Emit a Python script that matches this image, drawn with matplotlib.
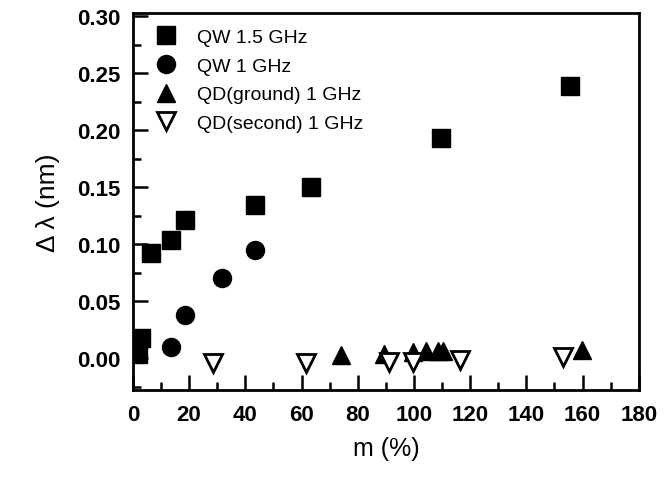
import matplotlib
matplotlib.use("Agg")
import matplotlib.pyplot as plt
from matplotlib.ticker import MultipleLocator

plt.rcParams['font.family'] = ['Liberation Sans', 'DejaVu Sans']

# QW 1.5 GHz (filled squares)
qw15_m = [2, 3, 6.5, 13.5, 18.7, 43.3, 63.4, 109.6, 155.5]
qw15_dl = [0.004, 0.018, 0.092, 0.104, 0.121, 0.134, 0.150, 0.193, 0.239]

# QW 1 GHz (filled circles)
qw1_m = [13.5, 18.7, 31.7, 43.3]
qw1_dl = [0.010, 0.038, 0.070, 0.095]

# QD ground 1 GHz (filled up-triangles)
qdg_m = [74, 89.5, 99.5, 104.2, 108.5, 110.5, 159.8]
qdg_dl = [0.003, 0.004, 0.005, 0.006, 0.006, 0.006, 0.007]

# QD second 1 GHz (open down-triangles)
qds_m = [28.5, 61.7, 91, 99.5, 116.5, 153.2]
qds_dl = [-0.004, -0.004, -0.003, -0.003, -0.002, 0.001]

labels = ["QW 1.5 GHz", "QW 1 GHz", "QD(ground) 1 GHz", "QD(second) 1 GHz"]

fig = plt.figure(figsize=(6.71, 4.81), dpi=100)
ax = fig.add_axes([0.198, 0.187, 0.754, 0.784])

ax.plot(qw15_m, qw15_dl, ls='none', marker='s', ms=13, color='black', label=labels[0])
ax.plot(qw1_m, qw1_dl, ls='none', marker='o', ms=13, color='black', label=labels[1])
ax.plot(qdg_m, qdg_dl, ls='none', marker='^', ms=13.5, color='black', label=labels[2])
ax.plot(qds_m, qds_dl, ls='none', marker='v', ms=12.5, mfc='white', mec='black', mew=2,
        label=labels[3])

ax.set_xlim(0, 180)
ax.set_ylim(-0.028, 0.303)
ax.xaxis.set_major_locator(MultipleLocator(20))
ax.xaxis.set_minor_locator(MultipleLocator(10))
ax.yaxis.set_major_locator(MultipleLocator(0.05))
ax.yaxis.set_minor_locator(MultipleLocator(0.025))
ax.yaxis.set_major_formatter(matplotlib.ticker.FormatStrFormatter('%.2f'))

ax.tick_params(which='major', direction='in', length=11, width=1.8, labelsize=16, pad=10)
ax.tick_params(which='minor', direction='in', length=5.5, width=1.8)
ax.tick_params(axis='y', pad=9)
for lab in ax.get_xticklabels() + ax.get_yticklabels():
    lab.set_fontweight('bold')
for s in ax.spines.values():
    s.set_linewidth(2)

ax.set_xlabel("m (%)", fontsize=18, labelpad=8)
ax.set_ylabel("Δ λ (nm)", fontsize=19, labelpad=12)

leg = ax.legend(loc='upper left', frameon=False, fontsize=14, handletextpad=1.0,
                borderaxespad=0.3, labelspacing=0.57, handlelength=1.2,
                bbox_to_anchor=(0.016, 0.995))

fig.savefig("out.png", dpi=100)
